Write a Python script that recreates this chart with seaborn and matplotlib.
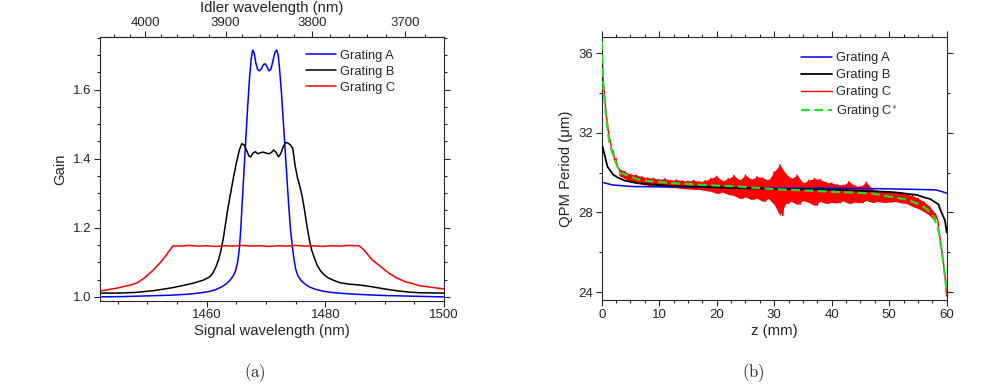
import numpy as np
import matplotlib
matplotlib.use('Agg')
import matplotlib.pyplot as plt
import seaborn as sns
from matplotlib.ticker import MultipleLocator, FixedLocator, FormatStrFormatter

sns.set_style('ticks')
plt.rcParams['font.family'] = ['Liberation Sans', 'DejaVu Sans']
plt.rcParams['mathtext.fontset'] = 'cm'

# pump wavelength used to convert signal -> idler on the top axis
pump_nm = 1064.0

# ---- panel (a): gain vs signal wavelength ----
blue_x = [1442, 1446, 1450, 1454, 1457, 1459, 1460.5, 1461.5, 1462.5, 1463.3, 1464.0, 1464.5,
          1464.9, 1465.2, 1465.5, 1465.75, 1466.0, 1466.3, 1466.6, 1466.9, 1467.2, 1467.5,
          1467.75, 1468.0, 1468.3, 1468.6, 1468.9, 1469.2, 1469.6, 1469.9, 1470.2, 1470.5,
          1470.8, 1471.1, 1471.5, 1471.8, 1472.05, 1472.3, 1472.6, 1472.9, 1473.2, 1473.5,
          1473.8, 1474.1, 1474.4, 1474.7, 1475.0, 1475.4, 1475.9, 1476.5, 1477.3, 1478.3,
          1479.5, 1481, 1483, 1486, 1490, 1495, 1500]
blue_y = [1.000, 1.001, 1.003, 1.005, 1.008, 1.012, 1.016, 1.021, 1.029, 1.038, 1.050, 1.062,
          1.078, 1.100, 1.140, 1.200, 1.280, 1.370, 1.460, 1.550, 1.630, 1.690,
          1.714, 1.705, 1.675, 1.657, 1.654, 1.660, 1.673, 1.674, 1.664, 1.654,
          1.658, 1.678, 1.708, 1.714, 1.700, 1.655, 1.590, 1.510, 1.430, 1.350,
          1.270, 1.200, 1.150, 1.110, 1.080, 1.060, 1.048, 1.038, 1.029, 1.022,
          1.017, 1.013, 1.010, 1.007, 1.004, 1.002, 1.000]

black_x = [1442, 1445, 1448, 1451, 1454, 1456, 1458, 1459.5, 1460.5, 1461.0, 1461.5, 1462.0,
           1462.4, 1462.8, 1463.2, 1463.6, 1464.0, 1464.5, 1465.0, 1465.5, 1465.9, 1466.3,
           1466.7, 1467.1, 1467.4, 1467.8, 1468.2, 1468.6, 1469.0, 1469.5, 1470.0, 1470.5,
           1470.9, 1471.3, 1471.7, 1472.1, 1472.5, 1472.9, 1473.3, 1473.7, 1474.1, 1474.5,
           1474.9, 1475.3, 1475.7, 1476.1, 1476.5, 1476.9, 1477.3, 1477.7, 1478.1, 1478.6,
           1479.2, 1479.8, 1480.5, 1481.5, 1482.5, 1484, 1486, 1488, 1490, 1492, 1494, 1496, 1500]
black_y = [1.011, 1.011, 1.013, 1.018, 1.026, 1.033, 1.041, 1.049, 1.058, 1.068, 1.085, 1.108,
           1.135, 1.170, 1.215, 1.260, 1.298, 1.345, 1.388, 1.425, 1.443, 1.440,
           1.425, 1.408, 1.405, 1.416, 1.420, 1.414, 1.417, 1.419, 1.416, 1.414,
           1.418, 1.425, 1.418, 1.405, 1.415, 1.435, 1.447, 1.445, 1.440, 1.430,
           1.380, 1.345, 1.320, 1.290, 1.250, 1.205, 1.165, 1.135, 1.115, 1.092,
           1.075, 1.064, 1.055, 1.047, 1.041, 1.037, 1.034, 1.029, 1.023, 1.018, 1.014, 1.012, 1.011]

red_x = [1442, 1445, 1447, 1448.2, 1449.5, 1451, 1452.2, 1453.2, 1454.3, 1455.5, 1457, 1458.5,
         1460, 1461.5, 1463, 1464.5, 1466, 1467.5, 1469, 1470.5, 1472, 1473.5, 1475, 1476.5,
         1478, 1479.5, 1481, 1482.5, 1484, 1485.7, 1486.5, 1487.9, 1489.3, 1490.7, 1492,
         1493.5, 1496, 1500]
red_y = [1.017, 1.026, 1.034, 1.040, 1.055, 1.078, 1.100, 1.122, 1.148, 1.147, 1.149, 1.147,
         1.148, 1.146, 1.148, 1.147, 1.149, 1.147, 1.148, 1.146, 1.148, 1.147, 1.149, 1.147,
         1.148, 1.146, 1.148, 1.147, 1.149, 1.148, 1.136, 1.107, 1.088, 1.069, 1.055,
         1.044, 1.032, 1.023]

# ---- panel (b): QPM period vs z ----
a_z = [0, 1.9, 5.4, 17, 29, 40, 47.2, 55.9, 58.2, 59.7, 60]
a_p = [29.52, 29.38, 29.30, 29.27, 29.22, 29.22, 29.20, 29.15, 29.13, 29.00, 28.97]

b_z = [0, 0.15, 0.5, 1.0, 2.0, 2.8, 4.0, 6.2, 12, 24, 41, 50, 51.3, 54.8, 56.5, 57.1, 58.6,
       58.8, 59.4, 59.7, 59.9, 60]
b_p = [31.0, 31.3, 30.9, 30.3, 29.9, 29.75, 29.6, 29.47, 29.33, 29.22, 29.13, 29.03, 29.0,
       28.88, 28.72, 28.68, 28.4, 28.2, 27.8, 27.6, 27.2, 27.0]

cs_z = [0, 0.2, 0.5, 0.7, 1.0, 1.4, 2.0, 2.5, 3.1, 3.7, 5, 6.6, 9, 12.3, 18, 23.9, 30, 35.5,
        42, 47.2, 51, 53, 54.8, 55.9, 57.0, 57.7, 58.6, 59.2, 59.6, 59.8, 60]
cs_p = [36.6, 34.7, 33.6, 33.0, 32.2, 31.4, 30.9, 30.5, 30.0, 29.95, 29.8, 29.63, 29.55,
        29.47, 29.38, 29.3, 29.17, 29.1, 29.02, 28.95, 28.75, 28.65, 28.46, 28.3, 28.05,
        27.8, 27.1, 25.95, 25.0, 24.6, 23.9]

# grating C: noisy band, upper / lower extremes read per mm
c_band_z = list(range(3, 59))
c_upper = [30.20, 30.05, 29.92, 29.88, 29.80, 29.74, 29.72, 29.66, 29.70, 29.62, 29.64, 29.60,
           29.58, 29.62, 29.55, 29.60, 29.72, 29.82, 29.58, 29.70, 29.86, 29.62, 29.88, 29.66,
           29.80, 29.74, 29.62, 30.05, 30.40, 29.95, 29.70, 29.88, 29.48, 29.62, 29.70, 29.66,
           29.52, 29.48, 29.40, 29.38, 29.55, 29.35, 29.30, 29.52, 29.20, 29.10, 29.08, 29.05,
           29.02, 28.98, 28.92, 28.85, 28.72, 28.55, 28.30, 27.95]
c_lower = [29.85, 29.70, 29.55, 29.47, 29.42, 29.36, 29.33, 29.30, 29.28, 29.25, 29.24, 29.20,
           29.18, 29.16, 29.15, 29.10, 29.06, 28.95, 29.02, 28.90, 28.85, 28.70, 28.78, 28.65,
           28.72, 28.55, 28.70, 28.40, 27.85, 28.45, 28.55, 28.40, 28.60, 28.50, 28.35, 28.55,
           28.45, 28.50, 28.48, 28.58, 28.45, 28.52, 28.48, 28.60, 28.50, 28.55, 28.50, 28.52,
           28.55, 28.48, 28.45, 28.30, 28.20, 28.05, 27.85, 27.55]
c_head_z = [0, 0.25, 0.5, 0.75, 1.0, 1.25, 1.5, 1.75, 2.0, 2.25, 2.5, 2.75]
c_head_p = [36.9, 34.6, 33.9, 33.0, 32.5, 31.8, 31.6, 31.1, 31.1, 30.6, 30.7, 30.3]
c_tail_z = [58.6, 59.2, 59.6, 59.8, 60]
c_tail_p = [27.2, 26.0, 25.1, 24.5, 23.8]

zig_z = np.column_stack((c_band_z, np.array(c_band_z) + 0.5)).ravel()
zig_p = np.column_stack((c_upper, c_lower)).ravel()
c_z = np.concatenate([c_head_z, zig_z, c_tail_z])
c_p = np.concatenate([c_head_p, zig_p, c_tail_p])

BLUE, BLACK, RED, GREEN = '#0000ff', '#000000', '#ff0000', '#22dd22'

fig = plt.figure(figsize=(10.04, 3.91), dpi=100)
ax1 = fig.add_axes([0.0996, 0.2309, 0.3426, 0.6737])
ax2 = fig.add_axes([0.5993, 0.2327, 0.3436, 0.6719])

lw = 1.1
sns.lineplot(x=blue_x, y=blue_y, ax=ax1, color=BLUE, lw=lw, sort=False, estimator=None, label='Grating A')
sns.lineplot(x=black_x, y=black_y, ax=ax1, color=BLACK, lw=lw, sort=False, estimator=None, label='Grating B')
sns.lineplot(x=red_x, y=red_y, ax=ax1, color=RED, lw=lw, sort=False, estimator=None, label='Grating C')

ax1.set_xlim(1442, 1500)
ax1.set_ylim(0.989, 1.751)
ax1.xaxis.set_major_locator(FixedLocator([1460, 1480, 1500]))
ax1.xaxis.set_minor_locator(MultipleLocator(5))
ax1.yaxis.set_major_locator(FixedLocator([1.0, 1.2, 1.4, 1.6]))
ax1.yaxis.set_minor_locator(MultipleLocator(0.05))
ax1.yaxis.set_major_formatter(FormatStrFormatter('%.1f'))
ax1.set_xlabel('Signal wavelength (nm)', fontsize=10.7, labelpad=2)
ax1.set_ylabel('Gain', fontsize=10.7, labelpad=4)

sec = ax1.secondary_xaxis('top', functions=(lambda s: 1.0 / (1.0 / pump_nm - 1.0 / s),
                                            lambda i: 1.0 / (1.0 / pump_nm - 1.0 / i)))
sec.xaxis.set_major_locator(FixedLocator([4000, 3900, 3800, 3700]))
sec.xaxis.set_minor_locator(MultipleLocator(20))
sec.set_xlabel('Idler wavelength (nm)', fontsize=10.7, labelpad=3)
sec.tick_params(which='major', length=4.3, width=0.8, labelsize=9.5, pad=2, direction='out')
sec.tick_params(which='minor', length=2.4, width=0.8, direction='out')

ax2.fill_between(c_band_z, c_upper, c_lower, color=RED, lw=0, zorder=2)
sns.lineplot(x=c_z, y=c_p, ax=ax2, color=RED, lw=1.0, sort=False, estimator=None, label='Grating C', zorder=2)
sns.lineplot(x=a_z, y=a_p, ax=ax2, color=BLUE, lw=lw, sort=False, estimator=None, label='Grating A', zorder=3)
sns.lineplot(x=b_z, y=b_p, ax=ax2, color=BLACK, lw=1.3, sort=False, estimator=None, label='Grating B', zorder=3)
sns.lineplot(x=cs_z, y=cs_p, ax=ax2, color=GREEN, lw=1.6, sort=False, estimator=None,
             label='Grating C$^{*}$', zorder=4)
ax2.lines[-1].set_dashes((4, 2))

ax2.set_xlim(0, 60)
ax2.set_ylim(23.6, 36.8)
ax2.xaxis.set_major_locator(MultipleLocator(10))
ax2.xaxis.set_minor_locator(MultipleLocator(2.5))
ax2.yaxis.set_major_locator(MultipleLocator(4))
ax2.yaxis.set_minor_locator(MultipleLocator(2))
ax2.set_xlabel('z (mm)', fontsize=10.7, labelpad=2)
ax2.set_ylabel('QPM Period (\u03bcm)', fontsize=10.7, labelpad=4)

for ax, top in ((ax1, False), (ax2, True)):
    for s in ax.spines.values():
        s.set_visible(True)
        s.set_linewidth(0.8)
    ax.tick_params(which='both', direction='out', top=top, right=True, width=0.8)
    ax.tick_params(which='major', length=4.3, labelsize=9.5, pad=2)
    ax.tick_params(which='minor', length=2.4)
    ax.grid(False)
for s in sec.spines.values():
    s.set_linewidth(0.8)

h1, l1 = ax1.get_legend_handles_labels()
ax1.legend(h1, l1, loc='upper left', bbox_to_anchor=(0.600, 0.953), frameon=False,
           fontsize=9.3, handlelength=2.3, handletextpad=0.3, labelspacing=0.3,
           borderpad=0, borderaxespad=0)

h2, l2 = ax2.get_legend_handles_labels()
order = [l2.index('Grating A'), l2.index('Grating B'), l2.index('Grating C'), l2.index('Grating C$^{*}$')]
ax2.legend([h2[i] for i in order], [l2[i] for i in order], loc='upper left',
           bbox_to_anchor=(0.578, 0.943), frameon=False, fontsize=9.3, handlelength=2.4,
           handletextpad=0.3, labelspacing=0.38, borderpad=0, borderaxespad=0)

fig.text(255 / 1004, 1 - 373 / 391, r'$\mathrm{(a)}$', ha='center', va='center', fontsize=12)
fig.text(753 / 1004, 1 - 373 / 391, r'$\mathrm{(b)}$', ha='center', va='center', fontsize=12)

fig.savefig('out.png', dpi=100)
